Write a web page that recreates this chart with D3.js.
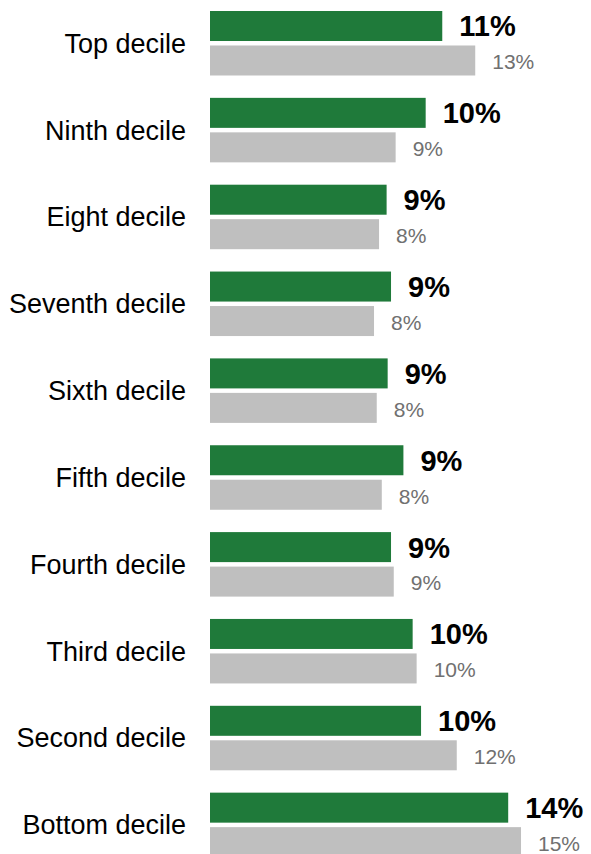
<!DOCTYPE html>
<html>
<head>
<meta charset="utf-8">
<script src="https://cdn.jsdelivr.net/npm/d3@7"></script>
<style>
  html, body { margin: 0; padding: 0; background: #fff; }
  svg { display: block; font-family: "Liberation Sans", Arial, sans-serif; }
</style>
</head>
<body>
<script>
// deciles, top to bottom
const categories = [
  "Top decile", "Ninth decile", "Eight decile", "Seventh decile", "Sixth decile",
  "Fifth decile", "Fourth decile", "Third decile", "Second decile", "Bottom decile"
];
// green series (bar lengths, in %)
const greenValues = [11.06, 10.27, 8.41, 8.62, 8.46, 9.21, 8.62, 9.65, 10.05, 14.2];
const greenLabels = ["11%", "10%", "9%", "9%", "9%", "9%", "9%", "10%", "10%", "14%"];
// grey series
const greyValues = [12.63, 8.84, 8.05, 7.81, 7.94, 8.18, 8.75, 9.84, 11.75, 14.81];
const greyLabels = ["13%", "9%", "8%", "8%", "8%", "8%", "9%", "10%", "12%", "15%"];

const width = 591, height = 854;

const svg = d3.select("body").append("svg")
  .attr("width", width)
  .attr("height", height);

const x = d3.scaleLinear().domain([0, 15]).range([210, 525]);

const y = d3.scaleBand()
  .domain(categories)
  .range([11, 11 + 86.85 * categories.length])
  .padding(0);

const sub = d3.scaleBand()
  .domain(["green", "grey"])
  .range([0, 64.5])
  .paddingInner(0.13);

const rows = categories.map((c, i) => ({
  cat: c,
  green: greenValues[i], greenLabel: greenLabels[i],
  grey: greyValues[i], greyLabel: greyLabels[i]
}));

const g = svg.selectAll(".row")
  .data(rows)
  .enter()
  .append("g")
  .attr("class", "row")
  .attr("transform", d => `translate(0,${y(d.cat)})`);

// category labels
g.append("text")
  .attr("x", 186)
  .attr("y", 64.5 / 2)
  .attr("dy", "0.35em")
  .attr("text-anchor", "end")
  .style("font-size", "27px")
  .style("fill", "#000")
  .text(d => d.cat);

// green bars
g.append("rect")
  .attr("x", x(0))
  .attr("y", sub("green"))
  .attr("width", d => x(d.green) - x(0))
  .attr("height", sub.bandwidth())
  .style("fill", "#1F7A3A");

g.append("text")
  .attr("x", d => x(d.green) + 17)
  .attr("y", sub("green") + sub.bandwidth() / 2)
  .attr("dy", "0.36em")
  .style("font-size", "29px")
  .style("font-weight", "bold")
  .style("fill", "#000")
  .text(d => d.greenLabel);

// grey bars
g.append("rect")
  .attr("x", x(0))
  .attr("y", sub("grey"))
  .attr("width", d => x(d.grey) - x(0))
  .attr("height", sub.bandwidth())
  .style("fill", "#BFBFBF");

g.append("text")
  .attr("x", d => x(d.grey) + 17)
  .attr("y", sub("grey") + sub.bandwidth() / 2)
  .attr("dy", "0.42em")
  .style("font-size", "21px")
  .style("fill", "#707070")
  .text(d => d.greyLabel);
</script>
</body>
</html>
